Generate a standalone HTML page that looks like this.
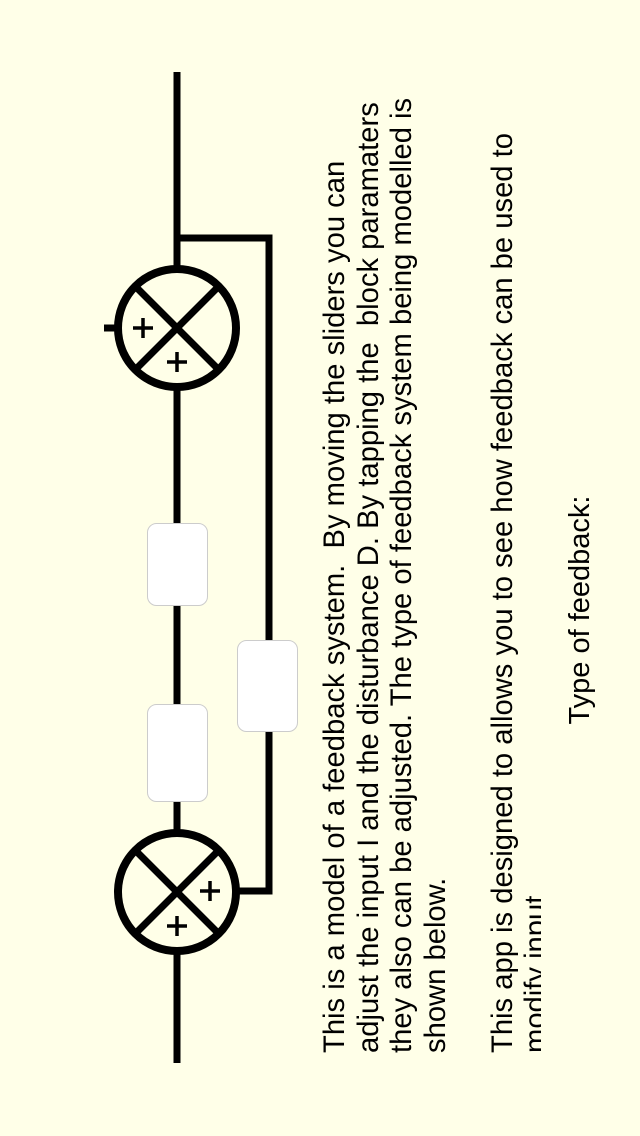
<!DOCTYPE html>
<html><head><meta charset="utf-8"><style>
html,body{margin:0;padding:0;}
body{width:640px;height:1136px;background:#ffffe8;position:relative;overflow:hidden;font-family:"Liberation Sans",Arial,sans-serif;}
svg{position:absolute;left:0;top:0;}
.txt{position:absolute;left:319px;top:1053px;width:1000px;height:222px;overflow:hidden;transform-origin:0 0;transform:rotate(-90deg);font-size:29.2px;line-height:33.5px;color:#000;white-space:pre;}
.lbl{position:absolute;left:562px;top:730px;width:240px;height:36px;transform-origin:0 0;transform:rotate(-90deg);font-size:29px;line-height:36px;text-align:center;white-space:pre;}
</style></head><body>
<svg width="640" height="1136">
  <g stroke="#000" stroke-width="7" fill="none">
    <line x1="177" y1="72" x2="177" y2="1063"/>
    <polyline points="177,238 269,238 269,891 237,891"/>
    <line x1="104" y1="328" x2="117" y2="328"/>
  </g>
  <g>
    <circle cx="177" cy="328" r="59" fill="#ffffe8" stroke="#000" stroke-width="8"/>
    <line x1="135" y1="286" x2="219" y2="370" stroke="#000" stroke-width="7"/>
    <line x1="219" y1="286" x2="135" y2="370" stroke="#000" stroke-width="7"/>
    <path d="M133 328h20M143 318v20M167 362h20M177 352v20" stroke="#000" stroke-width="3.5"/>
  </g>
  <g>
    <circle cx="177" cy="892" r="59" fill="#ffffe8" stroke="#000" stroke-width="8"/>
    <line x1="135" y1="850" x2="219" y2="934" stroke="#000" stroke-width="7"/>
    <line x1="219" y1="850" x2="135" y2="934" stroke="#000" stroke-width="7"/>
    <path d="M200 891h20M210 881v20M167 926h20M177 916v20" stroke="#000" stroke-width="3.5"/>
  </g>
  <rect x="147.5" y="523.5" width="60" height="82" rx="9" fill="#fff" stroke="#ccc"/>
  <rect x="147.5" y="704.5" width="60" height="97" rx="9" fill="#fff" stroke="#ccc"/>
  <rect x="237.5" y="640.5" width="60" height="91" rx="9" fill="#fff" stroke="#ccc"/>
</svg>
<div class="txt">This is a model of a feedback system.  By moving the sliders you can
adjust the input I and the disturbance D. By tapping the  block paramaters
they also can be adjusted. The type of feedback system being modelled is
shown below.

This app is designed to allows you to see how feedback can be used to
modify input</div>
<div class="lbl">Type of feedback:</div>
</body></html>
